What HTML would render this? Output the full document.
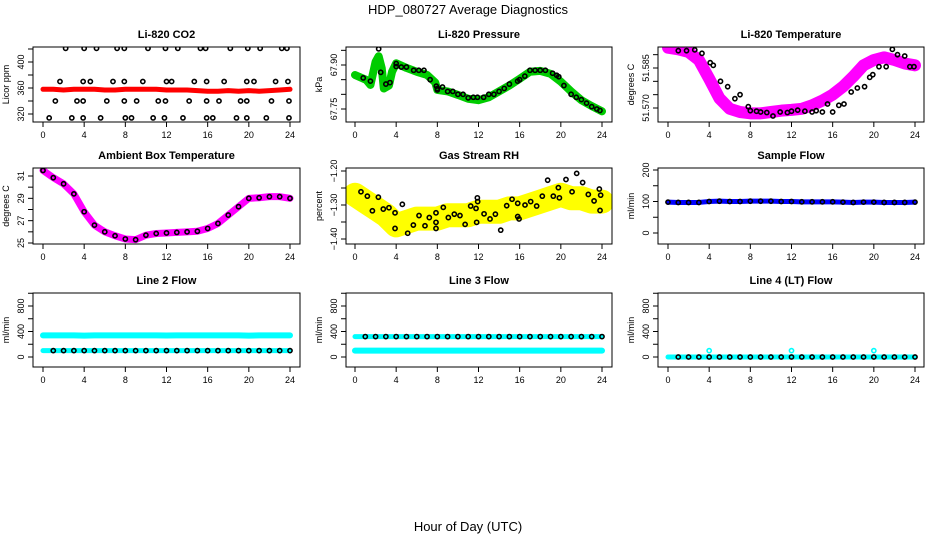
<!DOCTYPE html>
<html><head><meta charset="utf-8"><style>
html,body{margin:0;padding:0;background:#fff;}
svg{display:block;font-family:"Liberation Sans",sans-serif;}
</style></head><body>
<svg id="c" width="936" height="540" viewBox="0 0 936 540" xmlns="http://www.w3.org/2000/svg">
<text x="468" y="14" text-anchor="middle" font-size="13">HDP_080727  Average Diagnostics</text>
<text x="468" y="531" text-anchor="middle" font-size="13">Hour of Day (UTC)</text>
</svg>
<script>
const hours=[0,1,2,3,4,5,6,7,8,9,10,11,12,13,14,15,16,17,18,19,20,21,22,23,24];
const xTicks=[0,4,8,12,16,20,24];
const co2Red=[358,358,357,358,358,358,357,357,358,358,358,358,357,357,357,356,355,355,356,355,356,355,356,357,358];
const co2BlkX=[2.2,4.0,5.2,7.2,7.9,10.2,11.9,13.1,15.3,15.8,18.2,19.9,21.1,23.2,23.7,1.65,3.9,4.6,6.8,7.9,9.7,12.0,12.5,14.7,15.9,17.6,19.8,20.5,22.6,23.8,1.2,3.3,3.9,6.2,7.9,9.1,11.2,11.9,14.2,15.9,17.1,19.2,19.8,22.2,23.9,0.6,2.8,3.9,5.6,8.0,8.6,10.7,11.8,13.6,15.9,16.5,18.8,19.8,21.7,23.9];
const co2BlkY=[421,421,421,421,421,421,421,421,421,421,421,421,421,421,421,370,370,370,370,370,370,370,370,370,370,370,370,370,370,370,340,340,340,340,340,340,340,340,340,340,340,340,340,340,340,314,314,314,314,314,314,314,314,314,314,314,314,314,314,314];
const presX=[0,1.1,1.5,2.0,2.3,2.6,2.8,3.3,3.6,4,5,6,7,7.8,8,9,10,11,12,13,14,15,16,17,18,19,20,21,22,23,24];
const presG=[67.866,67.849,67.832,67.911,67.93,67.889,67.82,67.83,67.877,67.906,67.89,67.877,67.866,67.84,67.815,67.81,67.798,67.785,67.78,67.79,67.81,67.83,67.853,67.877,67.88,67.87,67.843,67.81,67.78,67.76,67.742];
const presBlkX=[0.8,1.5,2.5,2.3,3.0,3.4,4.0,4.0,4.5,5.0,5.7,6.2,6.7,7.3,7.9,8.0,8.0,8.5,9.0,9.5,10.0,10.5,11.0,11.5,11.9,12.5,13.0,13.5,14.0,14.5,15.0,15.8,16.0,16.5,17.0,17.5,18.0,18.5,19.2,19.6,19.8,20.3,21.0,21.5,22.0,22.5,23.0,23.5,23.8];
const presBlkY=[67.856,67.845,67.875,67.955,67.835,67.84,67.905,67.895,67.893,67.893,67.882,67.882,67.882,67.85,67.828,67.815,67.82,67.825,67.81,67.81,67.8,67.8,67.788,67.79,67.79,67.79,67.8,67.8,67.81,67.82,67.835,67.845,67.85,67.862,67.882,67.882,67.882,67.882,67.872,67.865,67.86,67.83,67.8,67.79,67.782,67.77,67.758,67.75,67.745];
const tempM=[51.5926,51.592,51.591,51.588,51.581,51.5736,51.5697,51.5685,51.568,51.568,51.5685,51.569,51.5693,51.5697,51.571,51.5728,51.575,51.578,51.5818,51.586,51.588,51.589,51.588,51.5867,51.586];
const tempBlkX=[1.0,1.8,2.6,3.3,4.1,4.4,5.1,5.8,6.5,7.0,7.8,8.0,8.6,9.0,9.6,10.2,10.9,11.6,12.0,12.6,13.3,14.0,14.4,15.0,15.5,16.0,16.6,17.1,17.8,18.4,19.1,19.6,19.9,20.5,21.2,21.8,22.3,23.0,23.5,23.9];
const tempBlkY=[51.5915,51.5915,51.5918,51.5905,51.587,51.586,51.580,51.578,51.5735,51.575,51.5705,51.569,51.5688,51.5685,51.5683,51.567,51.5685,51.5683,51.5688,51.5692,51.5688,51.5685,51.569,51.5685,51.5715,51.5685,51.571,51.5715,51.576,51.5775,51.578,51.5815,51.5825,51.5855,51.5855,51.592,51.590,51.5895,51.5855,51.5855];
const ambM=[31.5,30.85,30.3,29.4,27.8,26.6,26.0,25.65,25.36,25.3,25.7,25.85,25.9,25.95,26.0,26.05,26.3,26.75,27.5,28.25,29.0,29.05,29.15,29.15,29.0];
const rhY=[-1.27,-1.29,-1.31,-1.33,-1.36,-1.35,-1.34,-1.34,-1.34,-1.33,-1.33,-1.33,-1.32,-1.32,-1.32,-1.31,-1.31,-1.30,-1.29,-1.28,-1.27,-1.28,-1.28,-1.29,-1.29];
const rhBlkX=[0.58,1.2,1.69,2.27,2.75,3.3,3.89,3.89,4.6,5.12,5.67,6.22,6.8,7.22,7.87,7.87,7.87,8.58,9.07,9.65,10.2,10.7,11.24,11.76,11.82,11.89,11.92,12.54,13.12,13.64,14.16,14.74,15.26,15.81,15.81,15.94,16.52,17.07,17.65,18.2,18.72,19.27,19.76,19.86,20.5,21.09,21.54,22.12,22.67,23.23,23.74,23.81,23.87];
const rhBlkY=[-1.261,-1.274,-1.317,-1.277,-1.312,-1.308,-1.323,-1.369,-1.298,-1.383,-1.359,-1.331,-1.361,-1.337,-1.323,-1.351,-1.369,-1.307,-1.337,-1.327,-1.331,-1.357,-1.303,-1.31,-1.351,-1.279,-1.29,-1.326,-1.341,-1.327,-1.374,-1.302,-1.283,-1.295,-1.334,-1.341,-1.30,-1.29,-1.303,-1.274,-1.227,-1.274,-1.249,-1.279,-1.225,-1.261,-1.207,-1.234,-1.269,-1.288,-1.253,-1.316,-1.271];
const sampleB=[98,97,97,97,100,101,100,100,101,101,101,100,100,99,99,99,99,98,97,98,98,97,97,97,98];
const line2Hi=[340,340,340,340,335,340,340,340,340,340,340,340,338,340,340,340,340,340,340,340,335,340,340,340,340];
const line2Lo=[100,100,100,100,100,100,100,100,100,100,100,100,100,100,100,100,100,100,100,100,100,100,100,100,100];
const line3Hi=[320,320,320,320,320,320,320,320,320,320,320,320,320,320,320,320,320,320,320,320,320,320,320,320,320];
const line3Lo=[100,100,100,100,100,100,100,100,100,100,100,100,100,100,100,100,100,100,100,100,100,100,100,100,100];
const line4=[0,0,0,0,0,0,0,0,0,0,0,0,0,0,0,0,0,0,0,0,0,0,0,0,0];
const line4SpikeX=[4,12,20];
const line4SpikeY=[100,100,100];

const NS="http://www.w3.org/2000/svg";
const svg=document.getElementById('c');
function el(tag,attrs,parent){const e=document.createElementNS(NS,tag);for(const k in attrs)e.setAttribute(k,attrs[k]);(parent||svg).appendChild(e);return e;}
const cols=[{bl:33,br:300,x0:43},{bl:346,br:612,x0:355},{bl:658,br:924,x0:668}];
const rows=[{bt:47,bb:122},{bt:168,bb:244},{bt:293,bb:367}];
function mkPanel(name,title,c,r,v1,p1,v2,p2,ticks,labels,ylab){
  const C=cols[c],R=rows[r];
  const g=el('g',{});
  
  
  const sx=h=>C.x0+h*247/24;
  const sy=v=>p1+(v-v1)*(p2-p1)/(v2-v1);
  const clipId='clip'+c+r;
  const cp=el('clipPath',{id:clipId},g);el('rect',{x:C.bl,y:R.bt,width:C.br-C.bl,height:R.bb-R.bt},cp);
  const plot=el('g',{'clip-path':'url(#'+clipId+')'},g);
  const t=el('text',{x:(C.bl+C.br)/2,y:R.bt-9,'text-anchor':'middle','font-size':11,'font-weight':'bold'},g);t.textContent=title;
  
  
  const box=el('rect',{x:C.bl,y:R.bt,width:C.br-C.bl,height:R.bb-R.bt,fill:'none',stroke:'#000','stroke-width':1},g);
  
  
  xTicks.forEach(h=>{el('line',{x1:sx(h),x2:sx(h),y1:R.bb,y2:R.bb+5,stroke:'#000'},g);
    const tx=el('text',{x:sx(h),y:R.bb+16,'text-anchor':'middle','font-size':9},g);tx.textContent=h;
    
    });
  ticks.forEach((v,i)=>{const y=sy(v);el('line',{x1:C.bl-5,x2:C.bl,y1:y,y2:y,stroke:'#000'},g);
    if(labels[i]){const ty=el('text',{x:C.bl-9,y:y,'text-anchor':'middle','font-size':9,transform:'rotate(-90 '+(C.bl-9)+' '+y+')'},g);ty.textContent=labels[i];
    
    }});
  const yl=el('text',{x:C.bl-24,y:(R.bt+R.bb)/2,'text-anchor':'middle','font-size':9,transform:'rotate(-90 '+(C.bl-24)+' '+((R.bt+R.bb)/2)+')'},g);yl.textContent=ylab;
  
  
  return {plot,sx,sy};
}
function band(P,xs,ys,color,w,name){
  const pts=xs.map((h,i)=>P.sx(h)+','+P.sy(ys[i])).join(' ');
  const pl=el('polyline',{points:pts,fill:'none',stroke:color,'stroke-width':w,'stroke-linejoin':'round','stroke-linecap':'round'},P.plot);
  
  
}
function dots(P,xs,ys,color,name){
  xs.forEach((h,i)=>{const d=el('circle',{cx:P.sx(h),cy:P.sy(ys[i]),r:2.1,fill:'none',stroke:color,'stroke-width':1.6},P.plot);
  
  });
}
let P;
P=mkPanel('co2-panel','Li-820 CO2',0,0,320,114,400,62,[320,340,360,380,400,420],['320','','360','','400',''],'Licor ppm');
band(P,hours,co2Red,'#ff0000',5,'co2-series');
dots(P,co2BlkX,co2BlkY,'#000','co2-point');
P=mkPanel('pressure-panel','Li-820 Pressure',1,0,67.75,109,67.90,65,[67.75,67.80,67.85,67.90,67.95],['67.75','','','67.90',''],'kPa');
band(P,presX,presG,'#00cc00',8,'pressure-series');
dots(P,presBlkX,presBlkY,'#000','pressure-point');
P=mkPanel('temperature-panel','Li-820 Temperature',2,0,51.570,108,51.585,68,[51.570,51.575,51.580,51.585,51.590],['51.570','','','51.585',''],'degrees C');
band(P,hours,tempM,'#ff00ff',12,'temperature-series');
dots(P,tempBlkX,tempBlkY,'#000','temperature-point');
P=mkPanel('ambient-panel','Ambient Box Temperature',0,1,25,243,31,176,[25,26,27,28,29,30,31],['25','','27','','29','','31'],'degrees C');
band(P,hours,ambM,'#ff00ff',7,'ambient-series');
dots(P,hours,ambM,'#000','ambient-point');
P=mkPanel('rh-panel','Gas Stream RH',1,1,-1.40,239,-1.20,171,[-1.40,-1.35,-1.30,-1.25,-1.20],['\u22121.40','','\u22121.30','','\u22121.20'],'percent');
band(P,hours,rhY,'#ffff00',24,'rh-series');
dots(P,rhBlkX,rhBlkY,'#000','rh-point');
P=mkPanel('sample-flow-panel','Sample Flow',2,1,0,233,200,170,[0,50,100,150,200],['0','','100','','200'],'ml/min');
band(P,hours,sampleB,'#0000ff',5,'sample-flow-series');
dots(P,hours,sampleB,'#000','sample-flow-point');
const flowTicks=[0,200,400,600,800,1000],flowLabels=['0','','400','','800',''];
P=mkPanel('line2-flow-panel','Line 2 Flow',0,2,0,357,800,306,flowTicks,flowLabels,'ml/min');
band(P,hours,line2Hi,'#00ffff',6,'line2-high-series');
band(P,hours,line2Lo,'#00ffff',5,'line2-low-series');
dots(P,hours.slice(1),line2Lo.slice(1),'#000','line2-point');
P=mkPanel('line3-flow-panel','Line 3 Flow',1,2,0,357,800,306,flowTicks,flowLabels,'ml/min');
band(P,hours,line3Lo,'#00ffff',6,'line3-low-series');
band(P,hours,line3Hi,'#00ffff',5,'line3-high-series');
dots(P,hours.slice(1),line3Hi.slice(1),'#000','line3-point');
P=mkPanel('line4-flow-panel','Line 4 (LT) Flow',2,2,0,357,800,306,flowTicks,flowLabels,'ml/min');
band(P,hours,line4,'#00ffff',5,'line4-series');
dots(P,hours.slice(1),line4.slice(1),'#000','line4-point');
dots(P,line4SpikeX,line4SpikeY,'#00ffff','line4-spike');
</script>
</body></html>
